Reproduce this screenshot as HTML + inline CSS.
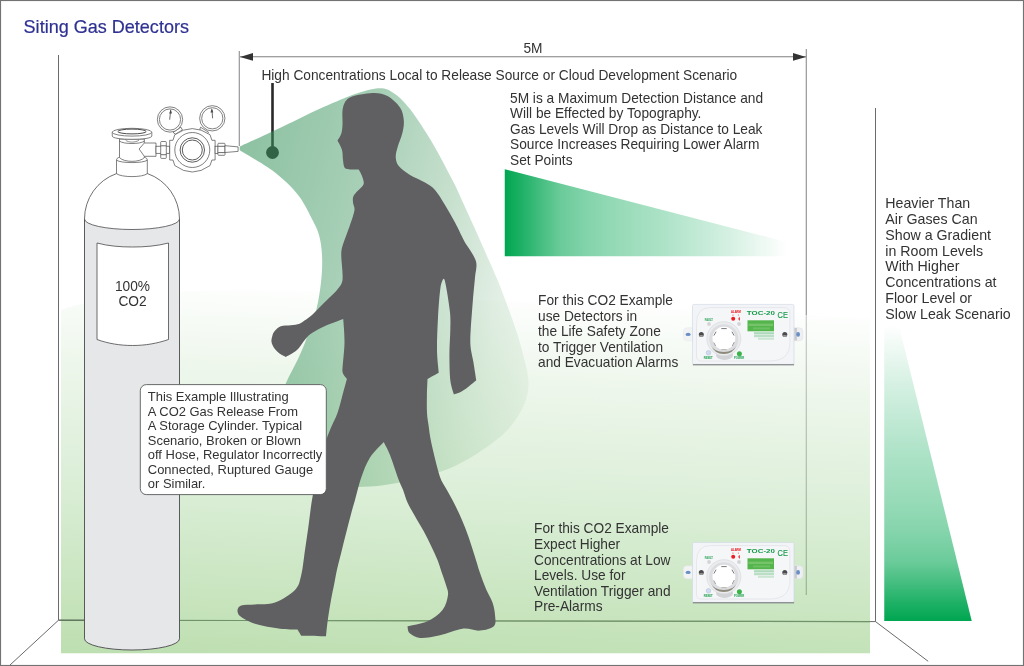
<!DOCTYPE html>
<html lang="en">
<head>
<meta charset="utf-8">
<title>Siting Gas Detectors</title>
<style>
html,body{margin:0;padding:0;background:#fff;}
body{width:1024px;height:666px;overflow:hidden;position:relative;font-family:"Liberation Sans",Arial,sans-serif;}
svg{position:absolute;left:0;top:0;display:block;}
text{font-family:"Liberation Sans",Arial,sans-serif;fill:#333;}
svg{will-change:transform;}
.t137{font-size:13.72px;}
.t13{font-size:12.94px;}
.t142{font-size:14.2px;}
.ln{stroke:#6a6b6d;stroke-width:1;fill:none;}
.o{stroke:#4a4a4c;stroke-width:0.7;fill:#fff;}
</style>
</head>
<body>
<svg width="1024" height="666" viewBox="0 0 1024 666">
<defs>
<linearGradient id="gbg" gradientUnits="userSpaceOnUse" x1="250" y1="289" x2="232.5" y2="662">
<stop offset="0" stop-color="#fbfdfb"/>
<stop offset="0.22" stop-color="#dceed8"/>
<stop offset="0.55" stop-color="#b5ddad"/>
<stop offset="1" stop-color="#7cbf62"/>
</linearGradient>
<linearGradient id="gcloud" gradientUnits="userSpaceOnUse" x1="240" y1="149" x2="594" y2="240">
<stop offset="0" stop-color="#37935b" stop-opacity="0.57"/>
<stop offset="0.33" stop-color="#37935b" stop-opacity="0.445"/>
<stop offset="0.6" stop-color="#3a9252" stop-opacity="0.28"/>
<stop offset="0.8" stop-color="#3c914b" stop-opacity="0.14"/>
<stop offset="1" stop-color="#3c914b" stop-opacity="0.03"/>
</linearGradient>
<linearGradient id="gw1" gradientUnits="userSpaceOnUse" x1="504.75" y1="0" x2="787.5" y2="0">
<stop offset="0" stop-color="#00a651" stop-opacity="1"/>
<stop offset="0.06" stop-color="#00a651" stop-opacity="0.88"/>
<stop offset="0.13" stop-color="#00a651" stop-opacity="0.725"/>
<stop offset="0.2" stop-color="#00a651" stop-opacity="0.58"/>
<stop offset="0.3" stop-color="#00a651" stop-opacity="0.48"/>
<stop offset="0.4" stop-color="#00a651" stop-opacity="0.41"/>
<stop offset="0.55" stop-color="#00a651" stop-opacity="0.33"/>
<stop offset="0.8" stop-color="#00a651" stop-opacity="0.16"/>
<stop offset="1" stop-color="#00a651" stop-opacity="0"/>
</linearGradient>
<linearGradient id="gw2" gradientUnits="userSpaceOnUse" x1="0" y1="620.5" x2="0" y2="324">
<stop offset="0" stop-color="#00a651" stop-opacity="1"/>
<stop offset="0.06" stop-color="#00a651" stop-opacity="0.88"/>
<stop offset="0.13" stop-color="#00a651" stop-opacity="0.725"/>
<stop offset="0.2" stop-color="#00a651" stop-opacity="0.58"/>
<stop offset="0.3" stop-color="#00a651" stop-opacity="0.48"/>
<stop offset="0.4" stop-color="#00a651" stop-opacity="0.41"/>
<stop offset="0.55" stop-color="#00a651" stop-opacity="0.33"/>
<stop offset="0.8" stop-color="#00a651" stop-opacity="0.16"/>
<stop offset="1" stop-color="#00a651" stop-opacity="0"/>
</linearGradient>
</defs>

<!-- page border -->
<rect x="0.5" y="0.5" width="1023" height="665" fill="#fff" stroke="#737373" stroke-width="1.15"/>

<!-- room green haze -->


<!-- room lines -->
<path class="ln" d="M58.5,55V620.2L875.5,621.6V108"/>
<path class="ln" d="M58.5,620.2L10,665M875.5,621.6L928.2,661.3"/>

<!-- dimension -->
<path class="ln" d="M239.25,51V146M806.25,49V595M240,56.75H806" style="stroke:#808184"/>
<path d="M240,56.9L253,53V60.8Z" fill="#333"/>
<path d="M806,56.9L793,53V60.8Z" fill="#333"/>

<!-- room green haze (over the lines) -->
<path d="M61,653.2V310C90,298 170,289.5 250,289.5C300,289.5 350,293 400,296L870,318V653.2H61Z" fill="url(#gbg)" fill-opacity="0.5"/>

<path d="M61,620.2L870,621.6" stroke="#6f9469" stroke-width="1.1" fill="none"/>
<path d="M58.5,620.2L85,620.25" stroke="#5d6a5a" stroke-width="1" fill="none"/>

<!-- probe -->
<rect x="271.2" y="83" width="2.6" height="66" fill="#2b2a2b"/>
<circle cx="272.5" cy="152.5" r="6.4" fill="#2b2a2b"/>

<!-- cloud -->
<path d="M239.75,146.50C245.38,143.90 263.71,135.48 273.50,130.90C283.29,126.32 290.17,122.97 298.50,119.00C306.83,115.03 315.17,110.85 323.50,107.10C331.83,103.35 341.75,99.13 348.50,96.50C354.59,94.12 359.42,92.63 364.00,91.30C368.58,89.97 372.67,88.95 376.00,88.50C379.17,88.07 381.50,88.10 384.00,88.60C386.50,89.10 388.39,89.96 391.00,91.50C393.67,93.07 396.83,95.08 400.00,98.00C403.17,100.92 407.03,105.33 410.00,109.00C412.97,112.67 414.80,115.51 417.80,120.00C421.25,125.17 426.68,133.33 430.70,140.00C434.72,146.67 438.95,154.58 441.90,160.00C444.60,164.95 446.22,168.33 448.40,172.50C450.58,176.67 452.86,180.62 455.00,185.00C457.14,189.38 459.17,194.17 461.25,198.75C463.33,203.33 465.31,207.71 467.50,212.50C469.69,217.29 472.11,222.42 474.40,227.50C476.69,232.58 478.52,236.80 481.25,243.00C485.10,251.75 493.38,270.17 497.50,280.00C501.15,288.70 502.92,293.67 506.00,302.00C509.08,310.33 513.00,320.67 516.00,330.00C519.00,339.33 521.92,349.25 524.00,358.00C526.08,366.75 528.50,374.67 528.50,382.50C528.50,390.33 527.50,397.08 524.00,405.00C520.50,412.92 514.42,422.50 507.50,430.00C500.58,437.50 491.25,444.00 482.50,450.00C473.75,456.00 463.75,461.83 455.00,466.00C446.25,470.17 439.17,472.25 430.00,475.00C420.83,477.75 410.00,480.58 400.00,482.50C390.00,484.42 380.00,485.92 370.00,486.50C360.00,487.08 350.00,487.08 340.00,486.00C330.00,484.92 319.17,484.00 310.00,480.00C300.83,476.00 290.67,469.50 285.00,462.00C279.33,454.50 277.00,444.50 276.00,435.00C275.00,425.50 277.33,413.67 279.00,405.00C280.67,396.33 282.92,390.50 286.00,383.00C289.08,375.50 294.17,367.17 297.50,360.00C300.83,352.83 302.95,348.14 306.00,340.00C309.12,331.67 313.71,320.00 316.25,310.00C318.79,300.00 320.29,289.17 321.25,280.00C322.21,270.83 322.38,262.50 322.00,255.00C321.62,247.50 320.58,240.83 319.00,235.00C317.42,229.17 315.46,225.83 312.50,220.00C309.33,213.75 304.58,204.00 300.00,197.50C295.42,191.00 290.46,186.08 285.00,181.00C279.54,175.92 274.73,172.08 267.25,167.00C259.71,161.88 244.33,153.04 239.75,150.25C239.75,149.62 239.75,147.12 239.75,146.50Z" fill="url(#gcloud)"/>

<!-- wedges -->
<path d="M504.75,169.25L787.5,242.2V256.25H504.75Z" fill="url(#gw1)"/>
<path d="M884.25,620.9V324H898.5L971.75,620.9Z" fill="url(#gw2)"/>

<!-- cylinder -->
<g>
 <path d="M84.5,219V638.8A47.5,11.2 0 0 0 179.5,638.8V219Z" fill="#e6e7e8" stroke="#4a4a4c" stroke-width="0.9"/>
 <path d="M84.5,219A47.5,48 0 0 1 116.5,173.6H147.5A47.5,48 0 0 1 179.5,219A47.5,10.5 0 0 1 84.5,219Z" fill="#fff" stroke="#4a4a4c" stroke-width="0.8"/>
 <path d="M97,243C108,246 120,247 132.5,247C145,247 157,246 168.5,243V339.5C157,343.5 145,345.5 132.5,345.5C120,345.5 108,343.5 97,339.5Z" fill="#fff" stroke="#4a4a4c" stroke-width="0.8"/>
 <!-- neck collar -->
 <path d="M116.5,160.2V173.6C121,177.6 143,177.6 147.3,173.6V160.2C143,163.4 121,163.4 116.5,160.2Z" class="o"/>
 <path d="M116.5,160.5C116.5,158.6 117.5,157.6 119.5,157.4M147.3,160.5C147.3,158.6 146.3,157.6 144.3,157.4" class="o" fill="none"/>
 <!-- valve body -->
 <path d="M119.5,139V157.6C124,162.6 140,162.6 144.3,157.6V156.3H156V143H144.3V139Z" class="o"/>
 <path d="M144.3,143L139.1,149L144.3,156.3" fill="#fff" stroke="#4a4a4c" stroke-width="0.7"/>
 <path d="M119.5,141.2C124,144.3 140,144.3 144.3,141.2" fill="none" stroke="#4a4a4c" stroke-width="0.7"/>
 <path d="M125.5,140C128,142.8 136,142.8 139,140" fill="none" stroke="#4a4a4c" stroke-width="0.6"/>
 <!-- flange -->
 <path d="M112.25,132.2V136C112.25,138.2 121,139.3 132,139.3C143,139.3 151.8,138.2 151.8,136V132.2Z" class="o"/>
 <ellipse cx="132" cy="132.2" rx="19.75" ry="3.9" class="o"/>
 <ellipse cx="132" cy="131.5" rx="14.2" ry="2.4" fill="#fff" stroke="#3a3a3c" stroke-width="0.9"/>
 <!-- connector -->
 <rect x="156" y="146.2" width="13.7" height="7.1" class="o"/>
 <rect x="160.7" y="141.5" width="5.6" height="16.9" rx="0.8" class="o"/>
 <line x1="160.7" y1="145.8" x2="166.3" y2="145.8" class="ln" stroke-width="0.6"/>
 <line x1="160.7" y1="154.7" x2="166.3" y2="154.7" class="ln" stroke-width="0.6"/>
 <!-- gauge stems -->
 <path d="M173,132.3L180.9,127.2L182.4,130L175.3,134.2Z" class="o"/>
 <path d="M200.6,127.2L208.6,132.3L206.7,134.2L199.7,129.5Z" class="o"/>
 <!-- gauges -->
 <circle cx="170" cy="119.5" r="12.65" class="o"/>
 <circle cx="170" cy="119.5" r="10.6" class="o"/>
 <circle cx="212.3" cy="118.3" r="12.65" class="o"/>
 <circle cx="212.3" cy="118.3" r="10.6" class="o"/>
 <path d="M169.7,119.7L170.6,110.5" class="ln" stroke-width="0.7"/>
 <path d="M170.7,109.2L169.2,113.6H172Z" fill="#4a4a4c"/>
 <path d="M212.6,118.3L211.9,109.5" class="ln" stroke-width="0.7"/>
 <path d="M211.8,108.2L210.5,112.6H213.3Z" fill="#4a4a4c"/>
 <!-- regulator body -->
 <path d="M174.8,134.7Q192.2,122.5 210,134.7L211.9,140.3H215.1V160H211.9L210,165.6Q192.2,178.4 174.8,165.6L172.96,160H169.7V140.3H172.96Z" class="o"/>
 <circle cx="192.3" cy="150" r="17.5" class="o"/>
 <circle cx="192.3" cy="150" r="12.2" class="o" style="stroke-width:0.9"/>
 <circle cx="192.3" cy="150" r="10" class="o" style="stroke-width:0.9"/>
 <!-- outlet -->
 <rect x="215.1" y="146.2" width="3" height="7.4" class="o"/>
 <rect x="217.9" y="143.3" width="7.1" height="12" rx="0.8" class="o"/>
 <line x1="217.9" y1="146.3" x2="225" y2="146.3" class="ln" stroke-width="0.6"/>
 <line x1="217.9" y1="152.6" x2="225" y2="152.6" class="ln" stroke-width="0.6"/>
 <path d="M225,145.7L238.1,146.9V151.4L225,152.5Z" class="o"/>
</g>
<text x="132.5" y="291" text-anchor="middle" class="t137">100%</text>
<text x="132.5" y="306" text-anchor="middle" class="t137">CO2</text>

<!-- person -->
<path d="M372.50,93.00C378.61,92.76 382.92,93.58 387.50,96.00C392.08,98.42 397.29,103.50 400.00,107.50C402.71,111.50 403.33,115.83 403.75,120.00C404.17,124.17 403.54,127.92 402.50,132.50C401.46,137.08 398.62,143.33 397.50,147.50C396.44,151.42 395.54,154.42 395.75,157.50C395.96,160.58 396.47,163.20 398.75,166.00C401.12,168.92 405.62,172.25 410.00,175.00C414.38,177.75 420.83,180.00 425.00,182.50C429.17,185.00 431.68,186.26 435.00,190.00C438.33,193.75 441.67,199.58 445.00,205.00C448.33,210.42 451.67,216.25 455.00,222.50C458.33,228.75 462.50,237.92 465.00,242.50C466.73,245.67 468.23,246.86 470.00,250.00C471.88,253.33 475.42,257.92 476.25,262.50C477.08,267.08 475.53,271.50 475.00,277.50C474.38,284.58 473.28,294.17 472.50,305.00C471.72,315.83 470.15,333.00 470.30,342.50C470.42,350.40 472.41,355.70 473.40,362.00C474.39,368.30 475.77,377.25 476.25,380.30C474.58,381.67 469.12,386.42 466.25,388.50C463.52,390.48 461.06,391.82 459.00,392.80C457.07,393.72 454.75,394.13 453.90,394.40C453.32,392.17 451.03,386.50 450.40,381.00C449.65,374.43 449.42,363.50 449.40,355.00C449.38,346.50 450.20,337.08 450.30,330.00C450.40,323.00 450.66,319.47 450.00,312.50C449.32,305.42 447.29,293.12 446.25,287.50C445.59,283.92 444.71,278.75 443.75,278.75C442.79,278.75 441.05,283.81 440.50,287.50C439.54,293.96 438.58,307.08 438.00,317.50C437.42,327.92 436.88,340.80 437.00,350.00C437.12,359.11 438.46,368.92 438.75,372.70C436.88,373.73 429.38,377.87 427.50,378.90C427.40,381.75 426.98,390.32 426.90,396.00C426.82,401.68 426.73,408.17 427.00,413.00C427.27,417.83 427.81,420.21 428.50,425.00C429.21,429.92 429.72,435.58 431.25,442.50C433.17,451.17 437.39,469.08 440.00,477.00C441.84,482.59 444.40,485.33 446.90,490.00C449.40,494.67 452.40,499.79 455.00,505.00C457.60,510.21 460.21,515.83 462.50,521.25C464.79,526.67 466.77,531.88 468.75,537.50C470.73,543.12 472.52,549.08 474.40,555.00C476.27,560.92 478.07,567.33 480.00,573.00C481.93,578.67 483.92,584.08 486.00,589.00C488.08,593.92 491.00,598.17 492.50,602.50C494.00,606.83 494.75,611.08 495.00,615.00C495.25,618.92 496.50,623.40 494.00,626.00C491.50,628.60 485.25,630.14 480.00,630.60C474.75,631.06 469.17,627.97 462.50,628.75C455.83,629.53 447.08,633.76 440.00,635.30C432.92,636.84 425.08,638.38 420.00,638.00C415.36,637.65 411.58,634.96 409.50,633.00C407.45,631.07 407.83,627.38 407.50,626.25C410.83,625.42 421.67,623.96 427.50,621.25C433.33,618.54 439.08,614.38 442.50,610.00C445.92,605.62 447.42,599.17 448.00,595.00C448.57,590.96 447.02,588.67 446.00,585.00C444.98,581.33 443.32,577.17 441.90,573.00C440.48,568.83 439.27,564.46 437.50,560.00C435.73,555.54 433.54,551.04 431.25,546.25C428.96,541.46 426.46,536.25 423.75,531.25C421.04,526.25 417.71,521.04 415.00,516.25C412.29,511.46 409.48,506.88 407.50,502.50C405.52,498.12 404.56,493.75 403.10,490.00C401.64,486.25 400.28,484.09 398.75,480.00C396.57,474.17 392.50,461.33 390.00,455.00C387.88,449.63 384.79,444.17 383.75,442.00C381.46,444.58 373.75,451.58 370.00,457.50C366.25,463.42 363.75,470.42 361.25,477.50C358.75,484.58 356.66,494.08 355.00,500.00C353.54,505.21 352.71,507.78 351.30,513.00C349.84,518.42 347.93,525.92 346.25,532.50C344.57,539.08 342.81,546.25 341.25,552.50C339.69,558.75 338.04,564.92 336.90,570.00C335.76,575.08 335.38,578.00 334.40,583.00C333.42,588.00 332.10,593.83 331.00,600.00C329.90,606.17 328.63,613.96 327.80,620.00C326.97,626.04 326.30,633.54 326.00,636.25C321.88,636.17 305.38,635.83 301.25,635.75C300.62,634.71 298.12,630.54 297.50,629.50C294.58,629.38 286.94,629.69 280.00,628.75C272.92,627.79 261.67,625.88 255.00,623.75C248.57,621.70 242.92,618.29 240.00,616.00C237.96,614.39 237.29,611.75 237.50,610.00C237.71,608.25 239.01,606.20 241.25,605.50C244.17,604.58 249.51,604.99 255.00,604.50C260.62,604.00 268.33,604.92 275.00,602.50C281.67,600.08 290.62,594.58 295.00,590.00C299.38,585.42 299.67,581.31 301.25,575.00C302.92,568.33 303.79,558.17 305.00,550.00C306.21,541.83 307.37,534.17 308.50,526.00C309.63,517.83 310.47,509.33 311.80,501.00C313.13,492.67 314.72,484.33 316.50,476.00C318.28,467.67 320.25,458.67 322.50,451.00C324.75,443.33 327.50,436.33 330.00,430.00C332.50,423.67 335.42,418.83 337.50,413.00C339.58,407.17 340.93,400.68 342.50,395.00C344.07,389.32 346.17,381.58 346.90,378.90C346.33,378.17 344.25,375.98 343.50,374.50C342.75,373.02 342.34,371.85 342.40,370.00C342.57,364.67 344.36,351.00 344.50,342.50C344.64,334.00 343.46,322.92 343.25,319.00C340.12,320.21 329.71,323.90 324.50,326.25C319.30,328.59 315.12,331.02 312.00,333.10C309.20,334.97 307.97,336.22 305.75,338.75C303.46,341.36 300.54,346.27 298.25,348.75C296.10,351.07 294.08,352.23 292.00,353.60C289.92,354.98 286.79,356.43 285.75,357.00C284.71,356.43 281.24,354.83 279.50,353.60C277.76,352.37 276.45,350.98 275.30,349.60C274.15,348.22 273.25,346.73 272.60,345.30C271.95,343.87 271.45,342.55 271.40,341.00C271.35,339.45 271.78,337.62 272.30,336.00C272.82,334.38 273.13,332.83 274.50,331.25C275.91,329.62 278.04,327.25 280.75,326.25C283.46,325.25 287.62,325.67 290.75,325.25C293.88,324.83 297.21,324.52 299.50,323.75C301.74,322.99 302.56,321.96 304.50,320.60C306.58,319.14 309.71,316.98 312.00,315.00C314.29,313.02 315.75,311.25 318.25,308.75C320.75,306.25 323.88,303.12 327.00,300.00C330.12,296.88 334.42,293.33 337.00,290.00C339.58,286.67 341.95,284.53 342.50,280.00C343.21,274.17 341.25,260.67 341.25,255.00C341.25,251.37 341.48,249.49 342.50,246.00C343.96,241.00 348.00,231.00 350.00,225.00C351.98,219.06 354.00,213.75 354.50,210.00C354.90,206.97 353.12,204.92 353.00,202.50C352.88,200.08 352.34,197.94 353.75,195.50C355.33,192.75 360.83,188.17 362.50,186.00C363.41,184.82 363.82,183.98 363.75,182.50C363.67,180.83 362.83,178.17 362.00,176.00C361.17,173.83 359.29,170.58 358.75,169.50C357.08,169.46 351.12,169.58 348.75,169.25C346.93,168.99 345.46,169.04 344.50,167.50C343.54,165.96 343.42,162.92 343.00,160.00C342.58,157.08 342.92,153.25 342.00,150.00C341.08,146.75 338.25,142.08 337.50,140.50C338.12,139.38 340.42,136.33 341.25,133.75C342.08,131.17 342.26,128.53 342.50,125.00C342.79,120.62 341.75,112.08 343.00,107.50C344.25,102.92 345.62,99.65 350.00,97.50C354.92,95.08 366.25,93.25 372.50,93.00Z" fill="#605f62"/>

<!-- text box -->
<rect x="140.3" y="384.6" width="186" height="110" rx="6" fill="#fff" stroke="#58595b" stroke-width="0.9"/>
<g class="t13">
<text x="147.8" y="401">This Example Illustrating</text>
<text x="147.8" y="416">A CO2 Gas Release From</text>
<text x="147.8" y="430">A Storage Cylinder. Typical</text>
<text x="147.8" y="445">Scenario, Broken or Blown</text>
<text x="147.8" y="459">off Hose, Regulator Incorrectly</text>
<text x="147.8" y="474">Connected, Ruptured Gauge</text>
<text x="147.8" y="488">or Similar.</text>
</g>

<!-- title -->
<text x="23.6" y="33" style="font-size:18.05px;fill:#2e3192;stroke:#2e3192;stroke-width:0.2">Siting Gas Detectors</text>

<text x="523.4" y="53" class="t137">5M</text>
<text x="261.4" y="80" class="t137">High Concentrations Local to Release Source or Cloud Development Scenario</text>
<g class="t137">
<text x="510" y="103">5M is a Maximum Detection Distance and</text>
<text x="510" y="118">Will be Effected by Topography.</text>
<text x="510" y="134">Gas Levels Will Drop as Distance to Leak</text>
<text x="510" y="149">Source Increases Requiring Lower Alarm</text>
<text x="510" y="165">Set Points</text>
</g>
<g class="t142">
<text x="885.3" y="208">Heavier Than</text>
<text x="885.3" y="224">Air Gases Can</text>
<text x="885.3" y="240">Show a Gradient</text>
<text x="885.3" y="256">in Room Levels</text>
<text x="885.3" y="271">With Higher</text>
<text x="885.3" y="287">Concentrations at</text>
<text x="885.3" y="303">Floor Level or</text>
<text x="885.3" y="319">Slow Leak Scenario</text>
</g>
<g class="t137">
<text x="538" y="305">For this CO2 Example</text>
<text x="538" y="321">use Detectors in</text>
<text x="538" y="336">the Life Safety Zone</text>
<text x="538" y="352">to Trigger Ventilation</text>
<text x="538" y="367">and Evacuation Alarms</text>
</g>
<g class="t137">
<text x="534" y="533">For this CO2 Example</text>
<text x="534" y="549">Expect Higher</text>
<text x="534" y="565">Concentrations at Low</text>
<text x="534" y="580">Levels. Use for</text>
<text x="534" y="596">Ventilation Trigger and</text>
<text x="534" y="611">Pre-Alarms</text>
</g>

<g transform="translate(692.5,304.4)">
  <path d="M0,23.4H-5.5Q-9,23.4 -9,27V33Q-9,36.3 -5.5,36.3H0Z" fill="#f2f3f5" stroke="#e6e7ea" stroke-width="0.5"/>
  <path d="M101.5,23.4H107Q110.5,23.4 110.5,27V33Q110.5,36.3 107,36.3H101.5Z" fill="#eeeff2" stroke="#e0e1e5" stroke-width="0.5"/>
  <rect x="101.8" y="23.6" width="2.6" height="12.5" fill="#c9cace"/>
  <ellipse cx="-4.4" cy="30" rx="2.5" ry="1.7" fill="#6a8fc6"/>
  <ellipse cx="105.6" cy="30" rx="1.9" ry="2.4" fill="#6a8fc6"/>
  
  <rect x="0" y="0" width="101.5" height="60" rx="1.3" fill="#f3f4f7" stroke="#ccd6e4" stroke-width="0.6"/>
  <path d="M0.4,60.4H101.6" stroke="#707174" stroke-width="1" fill="none"/>
  <path d="M18,3.2H91Q97.4,3.2 97.4,9V38Q97.4,56.6 77,56.6H9Q4,56.6 4,51.5V19Q4,3.2 18,3.2Z" fill="#f5f6f8" stroke="#dcdee2" stroke-width="0.6"/>
  <circle cx="8.8" cy="30" r="2.5" fill="#4b4b4d"/>
  <path d="M6.5,31A2.5,2.5 0 0 0 11.1,31Q8.8,30 6.5,31Z" fill="#9a9a98"/>
  <circle cx="92.3" cy="30" r="2.5" fill="#4b4b4d"/>
  <path d="M90,31A2.5,2.5 0 0 0 94.6,31Q92.3,30 90,31Z" fill="#9a9a98"/>
  <ellipse cx="32" cy="50.5" rx="8.5" ry="5" fill="#d2d3d6"/>
  <circle cx="31.3" cy="34.3" r="17" fill="#ebecee" stroke="#d9dadd" stroke-width="0.7"/>
  <circle cx="31.3" cy="34.5" r="14.6" fill="#dcdde0"/>
  <path d="M18.5,41A13.9,13.9 0 0 0 44.1,41A13.5,9.5 0 0 1 18.500,41Z" fill="#8d8a7c"/>
  <circle cx="31.4" cy="33.8" r="11.4" fill="#ffffff"/>
  <g stroke="#77787a" stroke-width="1" stroke-linecap="round">
   <line x1="29.2" y1="24.2" x2="33.8" y2="24.2"/>
   <line x1="23.4" y1="27.6" x2="21.6" y2="30.8"/>
   <line x1="39.6" y1="27.6" x2="41.4" y2="30.8"/>
   <line x1="21.4" y1="38.4" x2="23" y2="41.4" stroke="#9b9c9e"/>
   <line x1="41.6" y1="38" x2="40" y2="41.2" stroke="#9b9c9e"/>
   <line x1="29.2" y1="45.3" x2="33.8" y2="45.3" stroke="#b5b3a8"/>
  </g>
  <circle cx="16.5" cy="19.6" r="1.9" fill="#d3d4d6"/>
  <circle cx="46.5" cy="19.6" r="1.9" fill="#d3d4d6"/>
  <circle cx="40.7" cy="14.4" r="2" fill="#ea1d25"/>
  <path d="M47.3,12.5A2,2 0 0 0 47.3,16.3Z" fill="#ea1d25"/>
  <rect x="39.9" y="10.1" width="1.1" height="1.3" fill="#f07a7f"/>
  <rect x="45.4" y="10.1" width="0.9" height="1.3" fill="#f07a7f"/>
  <circle cx="16" cy="48.4" r="2.3" fill="#cddcf0" stroke="#aebbd0" stroke-width="0.5"/>
  <circle cx="46.9" cy="49.3" r="2.5" fill="#3db44a"/>
  <rect x="55" y="15.9" width="26.5" height="11" fill="#55b54d"/>
  <rect x="56" y="19.2" width="24.5" height="2.4" fill="#8fd083" opacity="0.55"/>
  <rect x="60.5" y="23" width="17" height="2" fill="#8fd083" opacity="0.4"/>
  <rect x="61.5" y="27.8" width="20" height="2.2" fill="#9fd3ae" opacity="0.85"/>
  <rect x="61.5" y="30.6" width="20" height="2.2" fill="#b0dbbc" opacity="0.85"/>
  <rect x="65.5" y="33.4" width="16" height="2" fill="#c2e3cb" opacity="0.85"/>
  <text transform="translate(54.3,10.1) scale(1.37,1)" style="font-size:5.8px;font-weight:bold;fill:#149a48">TOC-20</text>
  <text transform="translate(85,13.6) scale(0.78,1)" style="font-size:9.6px;fill:#149a48;stroke:#149a48;stroke-width:0.15">CE</text>
  <text transform="translate(38.6,8.1)" style="font-size:2.7px;font-weight:bold;fill:#ea1d25;stroke:#ea1d25;stroke-width:0.06">ALARM</text>
  <text transform="translate(12.2,16.1)" style="font-size:2.6px;font-weight:bold;fill:#35a860;stroke:#35a860;stroke-width:0.06">FAULT</text>
  <text transform="translate(11.3,54.8)" style="font-size:2.7px;font-weight:bold;fill:#2aa557;stroke:#2aa557;stroke-width:0.06">RESET</text>
  <text transform="translate(41.5,54.8)" style="font-size:2.7px;font-weight:bold;fill:#2aa557;stroke:#2aa557;stroke-width:0.06">POWER</text>
</g>
<g transform="translate(692.5,542.4)">
  <path d="M0,23.4H-5.5Q-9,23.4 -9,27V33Q-9,36.3 -5.5,36.3H0Z" fill="#f2f3f5" stroke="#e6e7ea" stroke-width="0.5"/>
  <path d="M101.5,23.4H107Q110.5,23.4 110.5,27V33Q110.5,36.3 107,36.3H101.5Z" fill="#eeeff2" stroke="#e0e1e5" stroke-width="0.5"/>
  <rect x="101.8" y="23.6" width="2.6" height="12.5" fill="#c9cace"/>
  <ellipse cx="-4.4" cy="30" rx="2.5" ry="1.7" fill="#6a8fc6"/>
  <ellipse cx="105.6" cy="30" rx="1.9" ry="2.4" fill="#6a8fc6"/>
  
  <rect x="0" y="0" width="101.5" height="60" rx="1.3" fill="#f3f4f7" stroke="#ccd6e4" stroke-width="0.6"/>
  <path d="M0.4,60.4H101.6" stroke="#707174" stroke-width="1" fill="none"/>
  <path d="M18,3.2H91Q97.4,3.2 97.4,9V38Q97.4,56.6 77,56.6H9Q4,56.6 4,51.5V19Q4,3.2 18,3.2Z" fill="#f5f6f8" stroke="#dcdee2" stroke-width="0.6"/>
  <circle cx="8.8" cy="30" r="2.5" fill="#4b4b4d"/>
  <path d="M6.5,31A2.5,2.5 0 0 0 11.1,31Q8.8,30 6.5,31Z" fill="#9a9a98"/>
  <circle cx="92.3" cy="30" r="2.5" fill="#4b4b4d"/>
  <path d="M90,31A2.5,2.5 0 0 0 94.6,31Q92.3,30 90,31Z" fill="#9a9a98"/>
  <ellipse cx="32" cy="50.5" rx="8.5" ry="5" fill="#d2d3d6"/>
  <circle cx="31.3" cy="34.3" r="17" fill="#ebecee" stroke="#d9dadd" stroke-width="0.7"/>
  <circle cx="31.3" cy="34.5" r="14.6" fill="#dcdde0"/>
  <path d="M18.5,41A13.9,13.9 0 0 0 44.1,41A13.5,9.5 0 0 1 18.500,41Z" fill="#8d8a7c"/>
  <circle cx="31.4" cy="33.8" r="11.4" fill="#ffffff"/>
  <g stroke="#77787a" stroke-width="1" stroke-linecap="round">
   <line x1="29.2" y1="24.2" x2="33.8" y2="24.2"/>
   <line x1="23.4" y1="27.6" x2="21.6" y2="30.8"/>
   <line x1="39.6" y1="27.6" x2="41.4" y2="30.8"/>
   <line x1="21.4" y1="38.4" x2="23" y2="41.4" stroke="#9b9c9e"/>
   <line x1="41.6" y1="38" x2="40" y2="41.2" stroke="#9b9c9e"/>
   <line x1="29.2" y1="45.3" x2="33.8" y2="45.3" stroke="#b5b3a8"/>
  </g>
  <circle cx="16.5" cy="19.6" r="1.9" fill="#d3d4d6"/>
  <circle cx="46.5" cy="19.6" r="1.9" fill="#d3d4d6"/>
  <circle cx="40.7" cy="14.4" r="2" fill="#ea1d25"/>
  <path d="M47.3,12.5A2,2 0 0 0 47.3,16.3Z" fill="#ea1d25"/>
  <rect x="39.9" y="10.1" width="1.1" height="1.3" fill="#f07a7f"/>
  <rect x="45.4" y="10.1" width="0.9" height="1.3" fill="#f07a7f"/>
  <circle cx="16" cy="48.4" r="2.3" fill="#cddcf0" stroke="#aebbd0" stroke-width="0.5"/>
  <circle cx="46.9" cy="49.3" r="2.5" fill="#3db44a"/>
  <rect x="55" y="15.9" width="26.5" height="11" fill="#55b54d"/>
  <rect x="56" y="19.2" width="24.5" height="2.4" fill="#8fd083" opacity="0.55"/>
  <rect x="60.5" y="23" width="17" height="2" fill="#8fd083" opacity="0.4"/>
  <rect x="61.5" y="27.8" width="20" height="2.2" fill="#9fd3ae" opacity="0.85"/>
  <rect x="61.5" y="30.6" width="20" height="2.2" fill="#b0dbbc" opacity="0.85"/>
  <rect x="65.5" y="33.4" width="16" height="2" fill="#c2e3cb" opacity="0.85"/>
  <text transform="translate(54.3,10.1) scale(1.37,1)" style="font-size:5.8px;font-weight:bold;fill:#149a48">TOC-20</text>
  <text transform="translate(85,13.6) scale(0.78,1)" style="font-size:9.6px;fill:#149a48;stroke:#149a48;stroke-width:0.15">CE</text>
  <text transform="translate(38.6,8.1)" style="font-size:2.7px;font-weight:bold;fill:#ea1d25;stroke:#ea1d25;stroke-width:0.06">ALARM</text>
  <text transform="translate(12.2,16.1)" style="font-size:2.6px;font-weight:bold;fill:#35a860;stroke:#35a860;stroke-width:0.06">FAULT</text>
  <text transform="translate(11.3,54.8)" style="font-size:2.7px;font-weight:bold;fill:#2aa557;stroke:#2aa557;stroke-width:0.06">RESET</text>
  <text transform="translate(41.5,54.8)" style="font-size:2.7px;font-weight:bold;fill:#2aa557;stroke:#2aa557;stroke-width:0.06">POWER</text>
</g>
</svg>
</body>
</html>
